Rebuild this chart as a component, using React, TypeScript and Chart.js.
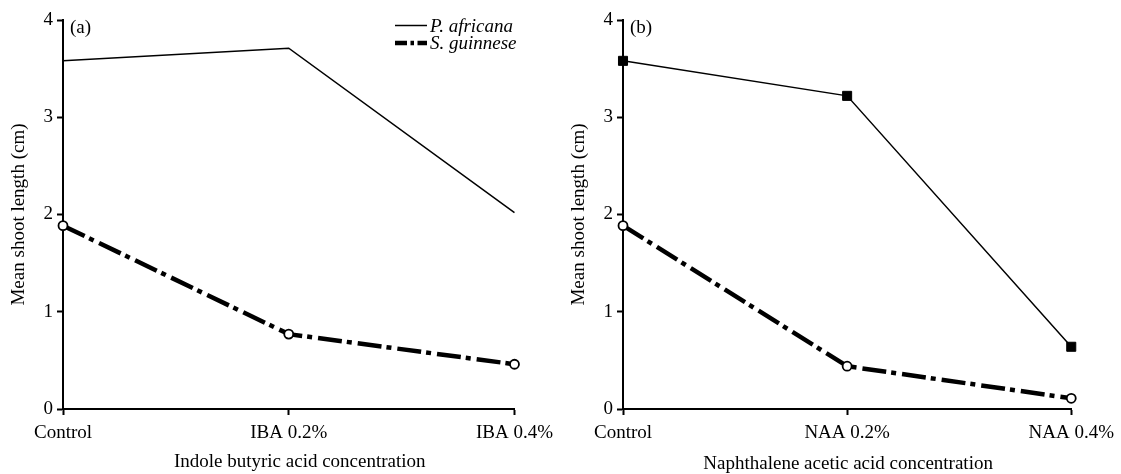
import React, { useEffect, useRef } from "react";
import { Chart, registerables } from "chart.js";

Chart.register(...registerables);

const categoriesA = ["Control", "IBA 0.2%", "IBA 0.4%"];
const categoriesB = ["Control", "NAA 0.2%", "NAA 0.4%"];
const africanaA = [3.58, 3.71, 2.02];
const guinneseA = [1.885, 0.77, 0.46];
const africanaB = [3.58, 3.22, 0.64];
const guinneseB = [1.885, 0.44, 0.11];
const yTicks = [0, 1, 2, 3, 4];
const seriesNames = ["P. africana", "S. guinnese"];
const yTitle = "Mean shoot length (cm)";

const SERIF = '"Liberation Serif", "Times New Roman", serif';
const DASH = [24, 5, 5, 6];

type PanelProps = {
  categories: string[];
  africana: number[];
  guinnese: number[];
  africanaMarkers: boolean;
  panelLabel: string;
  xTitle: string;
  xTitleShift: number;
  xTitleBaseline: number;
  showLegend: boolean;
  width: number;
};

function Panel(props: PanelProps) {
  const ref = useRef<HTMLCanvasElement | null>(null);
  useEffect(() => {
    if (!ref.current) return;
    const overlay = {
      id: "overlay",
      afterDraw(chart: any) {
        const ctx = chart.ctx;
        const area = chart.chartArea;
        ctx.save();
        ctx.fillStyle = "#000";
        ctx.font = `19px ${SERIF}`;
        ctx.textBaseline = "middle";
        ctx.textAlign = "left";
        ctx.fillText(props.panelLabel, area.left + 7, area.top + 8);
        // x axis title
        ctx.textAlign = "center";
        ctx.textBaseline = "alphabetic";
        ctx.fillText(
          props.xTitle,
          (area.left + area.right) / 2 + props.xTitleShift,
          props.xTitleBaseline
        );
        if (props.showLegend) {
          const x0 = 395;
          const x1 = 427;
          const ys = [25.5, 43];
          ctx.strokeStyle = "#000";
          ctx.lineWidth = 1.5;
          ctx.setLineDash([]);
          ctx.beginPath();
          ctx.moveTo(x0, ys[0]);
          ctx.lineTo(x1, ys[0]);
          ctx.stroke();
          ctx.lineWidth = 4.5;
          ctx.setLineDash([12, 3.5, 3.5, 3.5]);
          ctx.beginPath();
          ctx.moveTo(x0, ys[1]);
          ctx.lineTo(x1, ys[1]);
          ctx.stroke();
          ctx.setLineDash([]);
          ctx.font = `italic 19px ${SERIF}`;
          ctx.textAlign = "left";
          ctx.textBaseline = "middle";
          ctx.fillText(seriesNames[0], x1 + 3, ys[0] + 1);
          ctx.fillText(seriesNames[1], x1 + 3, ys[1] + 1);
        }
        ctx.restore();
      },
    };
    const chart = new Chart(ref.current, {
      type: "line",
      data: {
        labels: props.categories,
        datasets: [
          {
            label: seriesNames[0],
            data: props.africana,
            borderColor: "#000",
            backgroundColor: "#000",
            borderWidth: 1.5,
            pointStyle: "rect",
            pointRadius: props.africanaMarkers ? 6.4 : 0,
            pointBorderWidth: 1,
            pointBorderColor: "#000",
            pointBackgroundColor: "#000",
            tension: 0,
            clip: false as any,
          },
          {
            label: seriesNames[1],
            data: props.guinnese,
            borderColor: "#000",
            backgroundColor: "#fff",
            borderWidth: 4.5,
            borderDash: DASH,
            pointStyle: "circle",
            pointRadius: 4.5,
            pointBorderWidth: 1.8,
            pointBorderColor: "#000",
            pointBackgroundColor: "#fff",
            tension: 0,
            clip: false as any,
          },
        ],
      },
      options: {
        responsive: false,
        animation: false,
        layout: { padding: { top: 20, right: props.width - 517, left: 0, bottom: 0 } },
        plugins: {
          legend: { display: false },
          tooltip: { enabled: false },
        },
        scales: {
          x: {
            type: "category",
            offset: false,
            afterFit: (s: any) => {
              s.height = 65;
            },
            grid: {
              drawOnChartArea: false,
              drawTicks: true,
              tickLength: 6,
              tickWidth: 2,
              tickColor: "#000",
            },
            border: { display: true, color: "#000", width: 2 },
            ticks: {
              color: "#000",
              font: { family: SERIF, size: 19 },
              padding: 7,
              maxRotation: 0,
              autoSkip: false,
            },
          },
          y: {
            type: "linear",
            min: 0,
            max: 4,
            afterFit: (s: any) => {
              s.width = 63;
            },
            afterBuildTicks: (s: any) => {
              s.ticks = yTicks.map((v) => ({ value: v }));
            },
            grid: {
              drawOnChartArea: false,
              drawTicks: true,
              tickLength: 6,
              tickWidth: 2,
              tickColor: "#000",
            },
            border: { display: true, color: "#000", width: 2 },
            ticks: {
              color: "#000",
              font: { family: SERIF, size: 19 },
              padding: 4,
            },
            title: {
              display: true,
              text: yTitle,
              color: "#000",
              font: { family: SERIF, size: 19 },
              padding: { top: 8, bottom: 0 },
            },
          },
        },
      },
      plugins: [overlay],
    });
    return () => chart.destroy();
  }, []);
  return (
    <canvas
      ref={ref}
      width={props.width}
      height={474}
      style={{ display: "block", width: props.width, height: 474 }}
    />
  );
}

export default function App() {
  return (
    <div
      style={{
        position: "fixed",
        left: 0,
        top: 0,
        width: 1121,
        height: 474,
        background: "#fff",
        display: "flex",
      }}
    >
      <Panel
        categories={categoriesA}
        africana={africanaA}
        guinnese={guinneseA}
        africanaMarkers={false}
        panelLabel="(a)"
        xTitle="Indole butyric acid concentration"
        xTitleShift={11}
        xTitleBaseline={467}
        showLegend={true}
        width={560}
      />
      <Panel
        categories={categoriesB}
        africana={africanaB}
        guinnese={guinneseB}
        africanaMarkers={true}
        panelLabel="(b)"
        xTitle="Naphthalene acetic acid concentration"
        xTitleShift={1}
        xTitleBaseline={469}
        showLegend={false}
        width={561}
      />
    </div>
  );
}
